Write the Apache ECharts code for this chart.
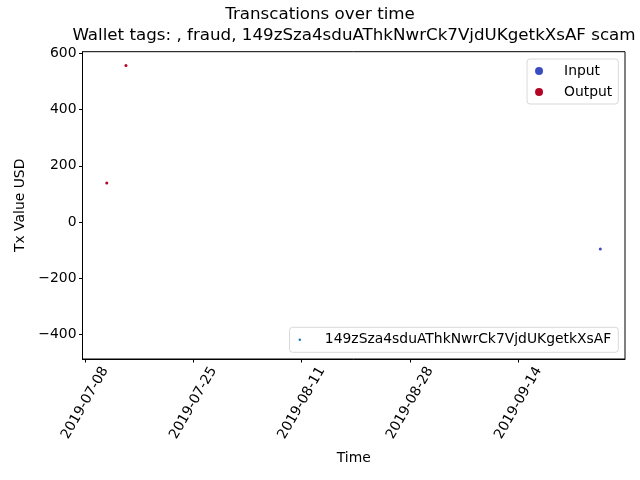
<!DOCTYPE html>
<html>
<head>
<meta charset="utf-8">
<script src="https://cdn.jsdelivr.net/npm/echarts@6/dist/echarts.min.js"></script>
<style>
  html, body { margin: 0; padding: 0; background: #fff; }
  #chart { width: 640px; height: 480px; }
</style>
</head>
<body>
<div id="chart"></div>
<script>
// data (time, USD value)
const inputPoints = [
  [Date.UTC(2019, 8, 26, 21, 0), -96]
];
const outputPoints = [
  [Date.UTC(2019, 6, 11, 10, 0), 139],
  [Date.UTC(2019, 6, 14, 10, 20), 557]
];
const xTicks = ['2019-07-08', '2019-07-25', '2019-08-11', '2019-08-28', '2019-09-14'];
const yTicks = [-400, -200, 0, 200, 400, 600];
const walletName = '149zSza4sduAThkNwrCk7VjdUKgetkXsAF';

const xMin = Date.UTC(2019, 6, 7, 14, 40);
const xMax = Date.UTC(2019, 8, 30, 18, 0);
const tickTimes = xTicks.map(s => Date.parse(s + 'T00:00:00Z'));

function fmtDate(v) {
  const d = new Date(v);
  const p = n => (n < 10 ? '0' : '') + n;
  return d.getUTCFullYear() + '-' + p(d.getUTCMonth() + 1) + '-' + p(d.getUTCDate());
}

const font = 'DejaVu Sans';
const chart = echarts.init(document.getElementById('chart'), null, { renderer: 'canvas' });

chart.setOption({
  animation: false,
  backgroundColor: '#fff',
  textStyle: { fontFamily: font, color: '#000' },
  title: [{
    text: 'Transcations over time',
    left: 320,
    textAlign: 'center',
    top: 6,
    padding: 0,
    textStyle: { fontFamily: font, fontSize: 16.7, fontWeight: 'normal', color: '#000' }
  }, {
    text: 'Wallet tags: , fraud, ' + walletName + ' scam',
    left: 354,
    textAlign: 'center',
    top: 27,
    padding: 0,
    textStyle: { fontFamily: font, fontSize: 16.7, fontWeight: 'normal', color: '#000' }
  }],
  grid: {
    left: 82.5, right: 15, top: 51.7, bottom: 121,
    show: true, borderColor: '#000', borderWidth: 1, backgroundColor: '#fff'
  },
  legend: [{
    data: ['Input', 'Output'],
    orient: 'vertical',
    right: 21.7,
    top: 59,
    padding: [5, 6, 5, 8],
    itemGap: 7,
    itemWidth: 20,
    itemHeight: 8,
    icon: 'circle',
    itemStyle: { opacity: 1 },
    borderColor: '#d9d9d9',
    borderWidth: 1,
    borderRadius: 3,
    backgroundColor: 'rgba(255,255,255,0.8)',
    selectedMode: false,
    textStyle: { fontFamily: font, fontSize: 13.9, color: '#000', padding: [0, 0, 0, 10], lineHeight: 14 }
  }, {
    data: [walletName],
    orient: 'vertical',
    right: 21.7,
    top: 327.3,
    padding: [5.5, 7, 5.5, 9],
    itemWidth: 20,
    itemHeight: 2.5,
    icon: 'circle',
    itemStyle: { opacity: 1 },
    borderColor: '#d9d9d9',
    borderWidth: 1,
    borderRadius: 3,
    backgroundColor: 'rgba(255,255,255,0.8)',
    selectedMode: false,
    textStyle: { fontFamily: font, fontSize: 13.9, color: '#000', padding: [0, 0, 0, 10], lineHeight: 14 }
  }],
  xAxis: {
    type: 'value',
    min: xMin,
    max: xMax,
    name: 'Time',
    nameLocation: 'middle',
    nameGap: 92,
    nameTextStyle: { fontFamily: font, fontSize: 13.9, color: '#000' },
    splitLine: { show: false },
    axisLine: { show: true, onZero: false, lineStyle: { color: '#000', width: 1 } },
    axisTick: { show: true, length: 3.5, lineStyle: { color: '#000' }, customValues: tickTimes },
    axisLabel: {
      customValues: tickTimes,
      formatter: fmtDate,
      rotate: 60,
      align: 'center',
      verticalAlign: 'middle',
      margin: 44,
      fontFamily: font, fontSize: 13.9, color: '#000'
    }
  },
  yAxis: {
    type: 'value',
    min: -487,
    max: 605.7,
    name: 'Tx Value USD',
    nameLocation: 'middle',
    nameGap: 53,
    nameTextStyle: { fontFamily: font, fontSize: 13.9, color: '#000' },
    splitLine: { show: false },
    axisLine: { show: true, lineStyle: { color: '#000', width: 1 } },
    axisTick: { show: true, length: 3.5, lineStyle: { color: '#000' }, customValues: yTicks },
    axisLabel: {
      customValues: yTicks,
      formatter: v => (v < 0 ? '\u2212' + Math.abs(v) : String(v)),
      margin: 6,
      fontFamily: font, fontSize: 13.9, color: '#000'
    }
  },
  series: [{
    name: 'Input',
    type: 'scatter',
    symbolSize: 3,
    itemStyle: { color: '#3b4cc0', opacity: 1 },
    data: inputPoints
  }, {
    name: 'Output',
    type: 'scatter',
    symbolSize: 3,
    itemStyle: { color: '#b40426', opacity: 1 },
    data: outputPoints
  }, {
    name: walletName,
    type: 'scatter',
    symbolSize: 2,
    itemStyle: { color: '#1f77b4', opacity: 1 },
    data: []
  }]
});
</script>
</body>
</html>
